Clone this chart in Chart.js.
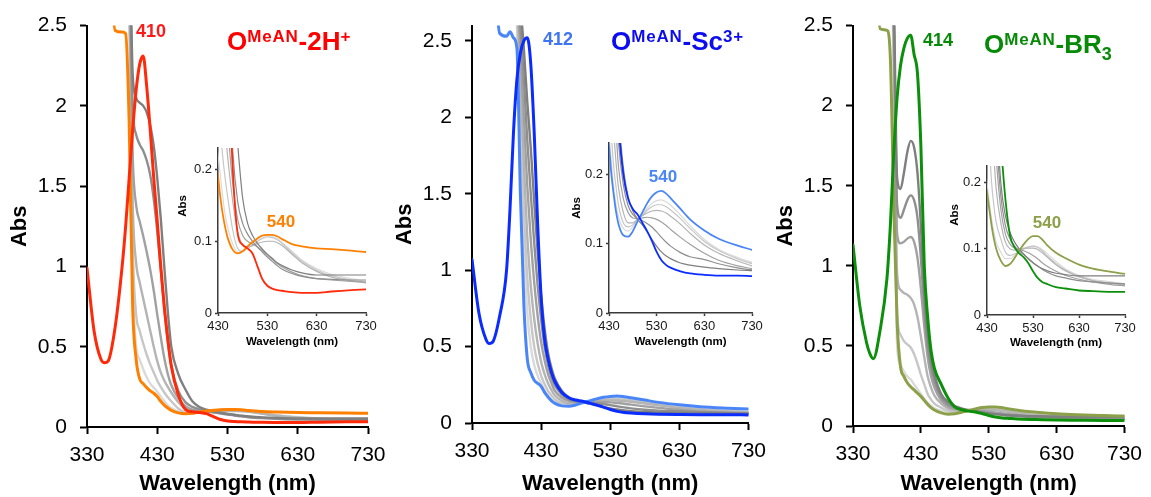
<!DOCTYPE html>
<html>
<head>
<meta charset="utf-8">
<title>UV-vis titration spectra</title>
<script src="https://cdn.jsdelivr.net/npm/chart.js@4.4.1/dist/chart.umd.min.js"></script>
<style>
  body { margin: 0; width: 1151px; height: 497px; position: relative; overflow: hidden; background: #fff;
         font-family: 'Liberation Sans', Arial, sans-serif; }
  canvas { position: absolute; }
  .ttl { position: absolute; font-weight: bold; font-size: 26px; line-height: 26px; white-space: nowrap; }
  .ttl .up { font-size: 17px; line-height: 1; letter-spacing: 0.8px; position: relative; top: -8px; }
  .ttl .dn { font-size: 18px; line-height: 1; position: relative; top: 7px; }
  .tag { position: absolute; font-weight: bold; line-height: 1; white-space: nowrap; transform: translate(-50%, -50%); }
  .ylab { position: absolute; font-weight: bold; font-size: 11.5px; line-height: 1; color: #000;
          transform: translate(-50%, -50%) rotate(-90deg); }
</style>
</head>
<body>
<canvas id="main1" width="400" height="497" style="left:0;top:0"></canvas>
<canvas id="main2" width="390" height="497" style="left:385px;top:0"></canvas>
<canvas id="main3" width="385" height="497" style="left:766px;top:0"></canvas>
<canvas id="inset1" width="215" height="219" style="left:170px;top:130px"></canvas>
<canvas id="inset2" width="215" height="224" style="left:561px;top:125px"></canvas>
<canvas id="inset3" width="212" height="202" style="left:939px;top:148px"></canvas>

<div class="ttl" style="left:227px;top:28px;color:#ff0000">O<span class="up">MeAN</span>-2H<span class="up">+</span></div>
<div class="ttl" style="left:611px;top:28px;color:#0c0cf0">O<span class="up">MeAN</span>-Sc<span class="up">3+</span></div>
<div class="ttl" style="left:984px;top:31px;color:#078a07">O<span class="up">MeAN</span>-BR<span class="dn">3</span></div>

<div class="tag" style="left:151px;top:31px;font-size:18px;color:#ff1a1a">410</div>
<div class="tag" style="left:558px;top:39px;font-size:18px;color:#3f74f2">412</div>
<div class="tag" style="left:938px;top:40px;font-size:18px;color:#078a07">414</div>

<div class="tag" style="left:281px;top:221px;font-size:17px;color:#ff8000">540</div>
<div class="tag" style="left:663px;top:176px;font-size:17px;color:#4a86f8">540</div>
<div class="tag" style="left:1047px;top:222px;font-size:17px;color:#8ca04a">540</div>

<div class="ylab" style="left:183px;top:206px">Abs</div>
<div class="ylab" style="left:577px;top:208px">Abs</div>
<div class="ylab" style="left:955px;top:215px">Abs</div>

<script>
// wavelength grid (nm) shared by every spectrum
const nm = [330, 340, 350, 355, 360, 370, 380, 385, 390, 395, 400, 405, 410, 415, 420, 425, 430, 435, 440,
            445, 450, 460, 470, 480, 490, 500, 510, 520, 530, 540, 550, 560, 580, 600, 630, 660, 700, 730];

const mainXTicks = [330, 430, 530, 630, 730];
const mainYTicks = [0, 0.5, 1, 1.5, 2, 2.5];
const insetXTicks = [430, 530, 630, 730];
const insetYTicks = [0, 0.1, 0.2];

// --- 2H+ titration ---
const p1Start = [0.99, 0.60, 0.42, 0.40, 0.41, 0.62, 1.00, 1.25, 1.55, 1.85, 2.10, 2.26, 2.31, 2.12, 1.85, 1.55, 1.28, 1.0, 0.75,
                 0.55, 0.38, 0.2, 0.11, 0.095, 0.09, 0.083, 0.065, 0.047, 0.038, 0.034, 0.032, 0.031, 0.029, 0.028, 0.028, 0.03, 0.032, 0.033];
const p1End = [3, 3, 3, 3, 3, 2.47, 2.46, 2.45, 1.9, 0.75, 0.42, 0.3, 0.27, 0.245, 0.225, 0.21, 0.19, 0.16, 0.136,
               0.118, 0.104, 0.088, 0.083, 0.086, 0.093, 0.099, 0.104, 0.108, 0.109, 0.109, 0.107, 0.103, 0.096, 0.093, 0.09, 0.089, 0.087, 0.085];
const p1Mid1 = [3, 3, 3, 3, 3, 3, 3, 3, 3, 2.2, 2.05, 2.02, 2.0, 1.96, 1.88, 1.75, 1.55, 1.3, 1.0,
                0.72, 0.5, 0.33, 0.235, 0.16, 0.125, 0.108, 0.097, 0.089, 0.082, 0.076, 0.07, 0.066, 0.06, 0.056, 0.053, 0.053, 0.053, 0.053];
const p1Mid2 = [3, 3, 3, 3, 3, 3, 3, 3, 3, 2.0, 1.82, 1.76, 1.72, 1.66, 1.57, 1.42, 1.22, 0.98, 0.74,
                0.53, 0.38, 0.225, 0.155, 0.125, 0.11, 0.1, 0.092, 0.085, 0.078, 0.072, 0.066, 0.061, 0.055, 0.051, 0.048, 0.047, 0.046, 0.046];
const p1Mid3 = [3, 3, 3, 3, 3, 3, 3, 3, 2.9, 1.7, 1.38, 1.28, 1.19, 1.09, 0.98, 0.85, 0.7, 0.56, 0.43,
                0.33, 0.26, 0.18, 0.13, 0.108, 0.1, 0.096, 0.092, 0.087, 0.081, 0.075, 0.069, 0.064, 0.057, 0.052, 0.048, 0.046, 0.044, 0.043];
const p1Mid4 = [3, 3, 3, 3, 3, 3, 3, 3, 2.8, 1.4, 1.02, 0.9, 0.8, 0.7, 0.6, 0.5, 0.41, 0.34, 0.29,
                0.25, 0.215, 0.155, 0.113, 0.095, 0.092, 0.094, 0.097, 0.099, 0.1, 0.1, 0.098, 0.094, 0.082, 0.07, 0.058, 0.05, 0.045, 0.042];
const p1Mid5 = [3, 3, 3, 3, 3, 3, 3, 3, 2.7, 1.15, 0.7, 0.6, 0.52, 0.45, 0.39, 0.34, 0.29, 0.25, 0.215,
                0.185, 0.16, 0.115, 0.09, 0.086, 0.09, 0.095, 0.1, 0.104, 0.106, 0.105, 0.102, 0.097, 0.084, 0.072, 0.06, 0.052, 0.046, 0.043];
const p1Mid6 = [3, 3, 3, 3, 3, 3, 3, 3, 2.6, 0.95, 0.5, 0.42, 0.36, 0.31, 0.27, 0.245, 0.22, 0.19, 0.16,
                0.135, 0.118, 0.096, 0.085, 0.086, 0.092, 0.098, 0.103, 0.107, 0.108, 0.107, 0.104, 0.098, 0.086, 0.074, 0.062, 0.054, 0.048, 0.044];

// --- Sc3+ titration ---
const p2Start = [1.07, 0.72, 0.55, 0.52, 0.53, 0.7, 1.0, 1.4, 1.9, 2.25, 2.42, 2.5, 2.52, 2.35, 1.9, 1.3, 0.82, 0.55, 0.42,
                 0.33, 0.27, 0.2, 0.165, 0.15, 0.142, 0.13, 0.118, 0.104, 0.088, 0.076, 0.069, 0.065, 0.06, 0.057, 0.055, 0.054, 0.054, 0.053];
const p2End = [3, 3, 3, 3, 3, 2.55, 2.53, 2.56, 2.52, 2.45, 1.5, 0.78, 0.42, 0.33, 0.28, 0.26, 0.24, 0.2, 0.17,
               0.145, 0.128, 0.112, 0.11, 0.118, 0.132, 0.145, 0.158, 0.168, 0.174, 0.176, 0.172, 0.165, 0.15, 0.135, 0.119, 0.107, 0.097, 0.091];
const p2Mid1 = [3, 3, 3, 3, 3, 3, 3, 3, 3, 3, 2.75, 2.45, 2.1, 1.8, 1.45, 1.12, 0.84, 0.62, 0.46,
                0.36, 0.29, 0.21, 0.168, 0.147, 0.135, 0.127, 0.117, 0.106, 0.096, 0.088, 0.082, 0.078, 0.072, 0.069, 0.066, 0.064, 0.062, 0.061];
const p2Mid2 = [3, 3, 3, 3, 3, 3, 3, 3, 3, 3, 2.6, 2.25, 1.85, 1.5, 1.18, 0.9, 0.68, 0.5, 0.38,
                0.3, 0.245, 0.185, 0.155, 0.142, 0.136, 0.133, 0.129, 0.124, 0.117, 0.109, 0.102, 0.096, 0.087, 0.081, 0.077, 0.071, 0.065, 0.062];
const p2Mid3 = [3, 3, 3, 3, 3, 3, 3, 3, 3, 2.9, 2.45, 2.0, 1.55, 1.2, 0.92, 0.7, 0.53, 0.41, 0.32,
                0.26, 0.21, 0.165, 0.145, 0.137, 0.136, 0.137, 0.138, 0.137, 0.135, 0.131, 0.126, 0.12, 0.109, 0.099, 0.086, 0.076, 0.068, 0.064];
const p2Mid4 = [3, 3, 3, 3, 3, 3, 3, 3, 3, 2.8, 2.25, 1.7, 1.22, 0.9, 0.68, 0.52, 0.4, 0.32, 0.26,
                0.215, 0.18, 0.145, 0.13, 0.13, 0.135, 0.14, 0.144, 0.147, 0.148, 0.147, 0.144, 0.139, 0.128, 0.115, 0.098, 0.086, 0.075, 0.068];
const p2Mid5 = [3, 3, 3, 3, 3, 3, 3, 3, 3, 2.7, 2.05, 1.4, 0.95, 0.68, 0.5, 0.39, 0.31, 0.255, 0.21,
                0.18, 0.155, 0.13, 0.124, 0.127, 0.134, 0.141, 0.148, 0.153, 0.156, 0.156, 0.153, 0.148, 0.136, 0.122, 0.103, 0.09, 0.078, 0.071];
const p2Mid6 = [3, 3, 3, 3, 3, 3, 3, 3, 3, 2.6, 1.85, 1.15, 0.72, 0.5, 0.38, 0.31, 0.26, 0.215, 0.18,
                0.155, 0.138, 0.122, 0.118, 0.124, 0.133, 0.142, 0.151, 0.158, 0.162, 0.163, 0.16, 0.155, 0.141, 0.126, 0.106, 0.092, 0.08, 0.073];

// --- BR3 titration ---
const p3Start = [1.13, 0.75, 0.52, 0.45, 0.42, 0.6, 0.92, 1.25, 1.7, 2.05, 2.25, 2.36, 2.42, 2.44, 2.32, 2.2, 1.75, 1.0, 0.68,
                 0.47, 0.36, 0.26, 0.175, 0.12, 0.102, 0.093, 0.087, 0.078, 0.066, 0.056, 0.05, 0.047, 0.042, 0.04, 0.037, 0.036, 0.035, 0.035];
const p3End = [3, 3, 3, 3, 3, 2.48, 2.47, 2.3, 1.4, 0.65, 0.37, 0.31, 0.27, 0.245, 0.225, 0.205, 0.185, 0.16, 0.135,
               0.115, 0.1, 0.082, 0.074, 0.077, 0.086, 0.097, 0.107, 0.115, 0.119, 0.119, 0.114, 0.106, 0.094, 0.086, 0.076, 0.07, 0.065, 0.062];
const p3Mid1 = [3, 3, 3, 3, 3, 3, 3, 3, 2.7, 1.55, 1.48, 1.58, 1.71, 1.78, 1.74, 1.58, 1.25, 0.85, 0.58,
                0.42, 0.32, 0.2, 0.15, 0.125, 0.11, 0.1, 0.092, 0.085, 0.079, 0.074, 0.07, 0.067, 0.063, 0.061, 0.059, 0.059, 0.059, 0.059];
const p3Mid2 = [3, 3, 3, 3, 3, 3, 3, 3, 2.6, 1.38, 1.3, 1.35, 1.41, 1.44, 1.41, 1.3, 1.05, 0.74, 0.5,
                0.37, 0.28, 0.18, 0.135, 0.115, 0.104, 0.097, 0.091, 0.085, 0.079, 0.074, 0.069, 0.065, 0.059, 0.056, 0.052, 0.05, 0.048, 0.047];
const p3Mid3 = [3, 3, 3, 3, 3, 3, 3, 3, 2.5, 1.2, 1.14, 1.15, 1.17, 1.18, 1.15, 1.05, 0.86, 0.62, 0.43,
                0.31, 0.24, 0.16, 0.122, 0.107, 0.101, 0.099, 0.097, 0.094, 0.09, 0.085, 0.079, 0.074, 0.066, 0.06, 0.054, 0.05, 0.046, 0.044];
const p3Mid4 = [3, 3, 3, 3, 3, 3, 3, 3, 2.4, 0.95, 0.85, 0.83, 0.82, 0.8, 0.76, 0.68, 0.56, 0.43, 0.31,
                0.24, 0.19, 0.14, 0.11, 0.1, 0.098, 0.099, 0.1, 0.101, 0.101, 0.099, 0.094, 0.088, 0.076, 0.067, 0.058, 0.052, 0.048, 0.046];
const p3Mid5 = [3, 3, 3, 3, 3, 3, 3, 3, 2.3, 0.7, 0.57, 0.53, 0.51, 0.49, 0.45, 0.39, 0.32, 0.26, 0.2,
                0.165, 0.14, 0.115, 0.095, 0.09, 0.092, 0.097, 0.101, 0.103, 0.104, 0.102, 0.097, 0.09, 0.078, 0.068, 0.058, 0.052, 0.048, 0.045];
const p3Mid6 = [3, 3, 3, 3, 3, 3, 3, 3, 2.2, 0.5, 0.38, 0.34, 0.31, 0.29, 0.26, 0.23, 0.2, 0.17, 0.145,
                0.125, 0.11, 0.095, 0.085, 0.085, 0.09, 0.096, 0.1, 0.103, 0.104, 0.103, 0.099, 0.093, 0.081, 0.07, 0.06, 0.054, 0.05, 0.047];

const grayShades = ['#7f7f7f', '#8f8f8f', '#a1a1a1', '#b4b4b4', '#c7c7c7', '#dadada'];
const FONT = "'Liberation Sans', Arial, sans-serif";

function toPoints(vals) {
    return vals.map((v, i) => ({ x: nm[i], y: v }));
}

// first two sets are drawn on top (Chart.js paints dataset 0 last)
function buildSets(start, end, mids, colors, wide, thin) {
    const sets = [
        { data: toPoints(start), borderColor: colors[0], borderWidth: wide },
        { data: toPoints(end), borderColor: colors[1], borderWidth: wide }
    ];
    mids.forEach((m, i) => sets.push({ data: toPoints(m), borderColor: grayShades[i], borderWidth: thin }));
    return sets;
}

function spectrumChart(id, datasets, cfg) {
    const tickFont = { size: cfg.tickSize, family: FONT };
    const titleFont = { size: cfg.titleSize, weight: 'bold', family: FONT };
    const gridOpts = {
        drawOnChartArea: false,
        tickLength: cfg.tickLen,
        tickWidth: cfg.axisWidth,
        tickColor: cfg.axisColor,
        color: cfg.axisColor
    };
    return new Chart(document.getElementById(id), {
        type: 'line',
        data: { datasets },
        options: {
            responsive: false,
            animation: false,
            events: [],
            layout: { padding: cfg.padding },
            elements: {
                point: { radius: 0 },
                line: { cubicInterpolationMode: 'monotone', borderCapStyle: 'round', borderJoinStyle: 'round' }
            },
            plugins: { legend: { display: false }, tooltip: { enabled: false } },
            scales: {
                x: {
                    type: 'linear',
                    min: cfg.xTicks[0],
                    max: cfg.xTicks[cfg.xTicks.length - 1],
                    afterBuildTicks: s => { s.ticks = cfg.xTicks.map(v => ({ value: v })); },
                    afterFit: s => { s.height = cfg.xHeight; },
                    ticks: { font: tickFont, color: cfg.textColor, padding: cfg.xPad, maxRotation: 0, autoSkip: false },
                    grid: gridOpts,
                    border: { color: cfg.axisColor, width: cfg.axisWidth },
                    title: { display: true, text: 'Wavelength (nm)', color: '#000', font: titleFont, padding: { top: 0, bottom: 0 } }
                },
                y: {
                    type: 'linear',
                    min: 0,
                    max: cfg.yMax,
                    afterBuildTicks: s => { s.ticks = cfg.yTicks.map(v => ({ value: v })); },
                    afterFit: s => { s.width = cfg.yWidth; },
                    ticks: { font: tickFont, color: cfg.textColor, padding: cfg.yPad, callback: v => String(v) },
                    grid: gridOpts,
                    border: { color: cfg.axisColor, width: cfg.axisWidth },
                    title: cfg.yTitle
                        ? { display: true, text: 'Abs', color: '#000', font: titleFont, padding: { top: 7, bottom: 0 } }
                        : { display: false }
                }
            }
        }
    });
}

const mainBase = {
    xTicks: mainXTicks, yTicks: mainYTicks, tickSize: 21, titleSize: 22, tickLen: 7,
    xPad: 9, yPad: 13, axisColor: '#000', axisWidth: 2, textColor: '#000', yWidth: 87, yTitle: true
};
const insetBase = {
    xTicks: insetXTicks, yTicks: insetYTicks, tickSize: 13, titleSize: 11.5, tickLen: 3,
    xPad: 3, yPad: 3, axisColor: '#3a3a3a', axisWidth: 1.5, textColor: '#1a1a1a', yWidth: 48, yTitle: false
};

const colors1 = ['#ff2a0a', '#ff8000'];
const colors2 = ['#0a2cff', '#4a86f8'];
const colors3 = ['#0c900c', '#8ca04a'];
const mids1 = [p1Mid1, p1Mid2, p1Mid3, p1Mid4, p1Mid5, p1Mid6];
const mids2 = [p2Mid1, p2Mid2, p2Mid3, p2Mid4, p2Mid5, p2Mid6];
const mids3 = [p3Mid1, p3Mid2, p3Mid3, p3Mid4, p3Mid5, p3Mid6];

spectrumChart('main1', buildSets(p1Start, p1End, mids1, colors1, 3, 2.4),
    { ...mainBase, yMax: 2.5, xHeight: 70, padding: { left: 0, top: 23, right: 32, bottom: 0 } });
spectrumChart('main2', buildSets(p2Start, p2End, mids2, colors2, 3, 2.4),
    { ...mainBase, yMax: 2.6, xHeight: 74, padding: { left: 0, top: 20, right: 23, bottom: 0 } });
spectrumChart('main3', buildSets(p3Start, p3End, mids3, colors3, 3, 2.4),
    { ...mainBase, yMax: 2.5, xHeight: 71, padding: { left: 0, top: 23, right: 19, bottom: 0 } });

spectrumChart('inset1', buildSets(p1Start, p1End, mids1, colors1, 1.8, 1.2),
    { ...insetBase, yMax: 0.23, xHeight: 36, padding: { left: 0, top: 18, right: 19, bottom: 0 } });
spectrumChart('inset2', buildSets(p2Start, p2End, mids2, colors2, 1.8, 1.2),
    { ...insetBase, yMax: 0.245, xHeight: 36, padding: { left: 0, top: 18, right: 24, bottom: 0 } });
spectrumChart('inset3', buildSets(p3Start, p3End, mids3, colors3, 1.8, 1.2),
    { ...insetBase, yMax: 0.225, xHeight: 35, padding: { left: 0, top: 18, right: 26, bottom: 0 } });
</script>
</body>
</html>
